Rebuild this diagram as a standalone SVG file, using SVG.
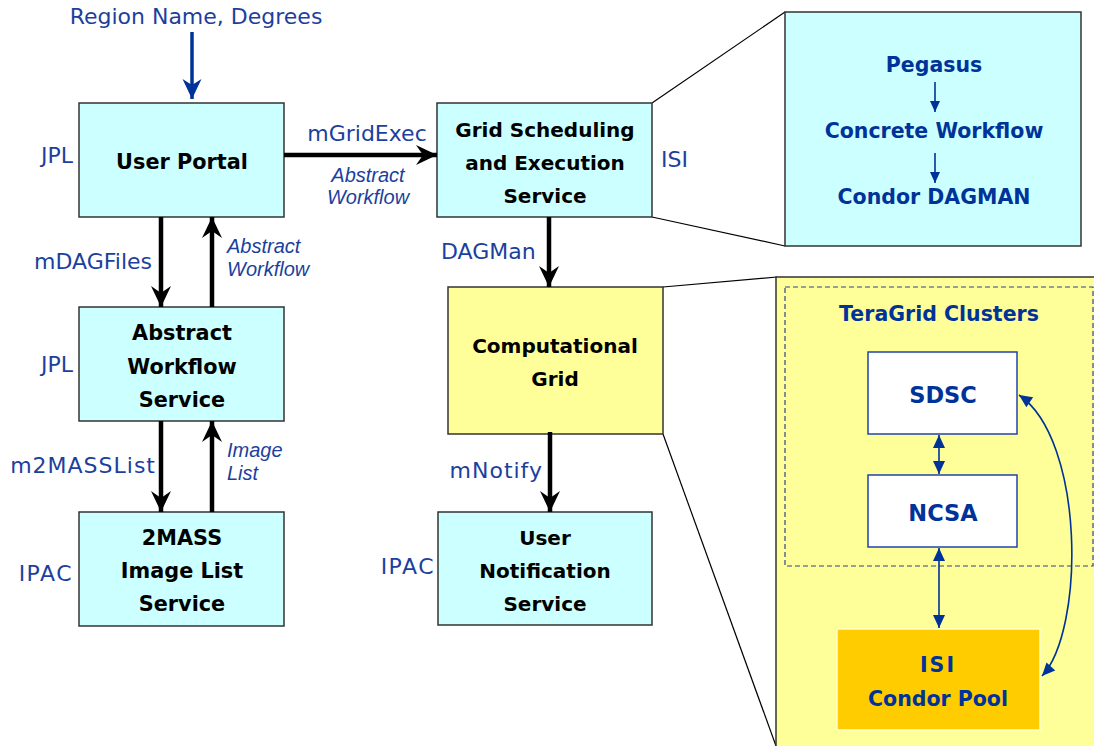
<svg xmlns="http://www.w3.org/2000/svg" width="1094" height="746" viewBox="0 0 1094 746">
<style>
.box{fill:#ccffff;stroke:#333;stroke-width:1.5}
.yel{fill:#ffff99;stroke:#333;stroke-width:1.5}
.bt{font-family:"DejaVu Sans",Verdana,sans-serif;font-weight:bold;font-size:20px;fill:#000;text-anchor:middle}
.lbl{font-family:"DejaVu Sans",Verdana,sans-serif;font-size:22px;fill:#1c3f9e}
.it{font-family:"Liberation Sans",Arial,sans-serif;font-style:italic;font-size:20px;fill:#1c3f9e}
.bb{font-family:"DejaVu Sans",Verdana,sans-serif;font-weight:bold;font-size:20.5px;fill:#003399;text-anchor:middle}
.big{font-size:22.5px}
.mid{font-size:20.8px}
.ka{stroke:#000;stroke-width:4.5;fill:none}
.ba{stroke:#003399;stroke-width:1.6;fill:none}
.thin{stroke:#000;stroke-width:1.2;fill:none}
</style>
<defs>
<marker id="ah" markerUnits="userSpaceOnUse" markerWidth="24" markerHeight="24" viewBox="-22 -12 24 24" refX="0" refY="0" orient="auto">
<path d="M0,0 L-21,-10 L-14,0 L-21,10 Z" fill="#000"/>
</marker>
<marker id="ahb" markerUnits="userSpaceOnUse" markerWidth="24" markerHeight="24" viewBox="-22 -12 24 24" refX="0" refY="0" orient="auto">
<path d="M0,0 L-20,-9.5 L-14,0 L-20,9.5 Z" fill="#003399"/>
</marker>
<marker id="tb" markerUnits="userSpaceOnUse" markerWidth="16" markerHeight="16" viewBox="-14 -8 16 16" refX="0" refY="0" orient="auto-start-reverse">
<path d="M0,0 L-13,-6 L-13,6 Z" fill="#003399"/>
</marker>
<marker id="ts" markerUnits="userSpaceOnUse" markerWidth="14" markerHeight="14" viewBox="-12 -7 14 14" refX="0" refY="0" orient="auto">
<path d="M0,0 L-11,-5 L-11,5 Z" fill="#003399"/>
</marker>
</defs>

<g id="zoom-lines">
<line class="thin" x1="652" y1="103" x2="785" y2="12"/>
<line class="thin" x1="652" y1="217" x2="785" y2="246"/>
<line class="thin" x1="663" y1="287" x2="777" y2="277"/>
<line class="thin" x1="663" y1="434" x2="776" y2="746"/>
</g>

<g id="input-label">
<text class="lbl" x="196" y="24" text-anchor="middle">Region Name, Degrees</text>
</g>

<g id="user-portal">
<rect class="box" x="79" y="103" width="205" height="114"/>
<text class="bt mid" x="182" y="169">User Portal</text>
<text class="lbl" x="73" y="163" text-anchor="end">JPL</text>
</g>

<g id="grid-scheduling">
<rect class="box" x="437" y="103" width="215" height="114"/>
<text class="bt" x="545" y="137">Grid Scheduling</text>
<text class="bt" x="545" y="170">and Execution</text>
<text class="bt" x="545" y="203">Service</text>
<text class="lbl" x="661" y="167">ISI</text>
</g>

<g id="pegasus-detail">
<rect class="box" x="785" y="12" width="296" height="234"/>
<text class="bb" x="934" y="72">Pegasus</text>
<text class="bb" x="934" y="138">Concrete Workflow</text>
<text class="bb" x="934" y="204">Condor DAGMAN</text>
</g>

<g id="abstract-workflow">
<rect class="box" x="79" y="307" width="205" height="114"/>
<text class="bt mid" x="182" y="340">Abstract</text>
<text class="bt mid" x="182" y="374">Workflow</text>
<text class="bt mid" x="182" y="407">Service</text>
<text class="lbl" x="73" y="372" text-anchor="end">JPL</text>
</g>

<g id="image-list">
<rect class="box" x="79" y="512" width="205" height="114"/>
<text class="bt mid" x="182" y="545">2MASS</text>
<text class="bt mid" x="182" y="578">Image List</text>
<text class="bt mid" x="182" y="611">Service</text>
<text class="lbl" x="73" y="581" text-anchor="end" letter-spacing="1.5">IPAC</text>
</g>

<g id="computational-grid">
<rect class="yel" x="448" y="287" width="215" height="147"/>
<text class="bt" x="555" y="353">Computational</text>
<text class="bt" x="555" y="386">Grid</text>
</g>

<g id="user-notification">
<rect class="box" x="438" y="512" width="214" height="113"/>
<text class="bt" x="545" y="545">User</text>
<text class="bt" x="545" y="578">Notification</text>
<text class="bt" x="545" y="611">Service</text>
<text class="lbl" x="435" y="574" text-anchor="end" letter-spacing="1.5">IPAC</text>
</g>

<g id="grid-detail">
<rect class="yel" x="776" y="277" width="330" height="480"/>
<rect x="785" y="287" width="308" height="279" fill="none" stroke="#334488" stroke-width="1.2" stroke-dasharray="5,3"/>
<text class="bb" x="939" y="321">TeraGrid Clusters</text>
</g>

<g id="sdsc">
<rect x="868" y="352" width="149" height="82" fill="#fff" stroke="#2244aa" stroke-width="1.5"/>
<text class="bb big" x="943" y="403">SDSC</text>
</g>

<g id="ncsa">
<rect x="868" y="475" width="149" height="72" fill="#fff" stroke="#2244aa" stroke-width="1.5"/>
<text class="bb big" x="943" y="521">NCSA</text>
</g>

<g id="isi-pool">
<rect x="837" y="629" width="203" height="101" fill="#ffcc00" stroke="#ffffcc" stroke-width="1.5"/>
<text class="bb" x="938" y="672" letter-spacing="2">ISI</text>
<text class="bb" x="938" y="706">Condor Pool</text>
</g>

<g id="connectors">
<line x1="192" y1="32" x2="192" y2="99" stroke="#003399" stroke-width="3.5" marker-end="url(#ahb)"/>
<line class="ka" x1="284" y1="155" x2="437" y2="155" marker-end="url(#ah)"/>
<line class="ka" x1="161" y1="217" x2="161" y2="307" marker-end="url(#ah)"/>
<line class="ka" x1="212" y1="307" x2="212" y2="217" marker-end="url(#ah)"/>
<line class="ka" x1="161" y1="421" x2="161" y2="512" marker-end="url(#ah)"/>
<line class="ka" x1="212" y1="512" x2="212" y2="421" marker-end="url(#ah)"/>
<line class="ka" x1="549" y1="217" x2="549" y2="287" marker-end="url(#ah)"/>
<line class="ka" x1="550" y1="432" x2="550" y2="512" marker-end="url(#ah)"/>
<line class="ba" x1="935" y1="82" x2="935" y2="112" marker-end="url(#ts)"/>
<line class="ba" x1="935" y1="153" x2="935" y2="183" marker-end="url(#ts)"/>
<line class="ba" x1="939" y1="435" x2="939" y2="474" marker-start="url(#tb)" marker-end="url(#tb)"/>
<line class="ba" x1="939" y1="548" x2="939" y2="628" marker-start="url(#tb)" marker-end="url(#tb)"/>
<path class="ba" d="M1019,395 C1085,440 1085,630 1042,676" marker-start="url(#tb)" marker-end="url(#tb)"/>
<text class="lbl" x="367" y="141" text-anchor="middle">mGridExec</text>
<text class="it" x="368" y="182" text-anchor="middle">Abstract</text>
<text class="it" x="368" y="204" text-anchor="middle">Workflow</text>
<text class="lbl" x="152" y="269" text-anchor="end">mDAGFiles</text>
<text class="it" x="227" y="253">Abstract</text>
<text class="it" x="227" y="276">Workflow</text>
<text class="lbl" x="156" y="473" text-anchor="end" letter-spacing="1">m2MASSList</text>
<text class="it" x="227" y="457">Image</text>
<text class="it" x="227" y="480">List</text>
<text class="lbl" x="441" y="259">DAGMan</text>
<text class="lbl" x="543" y="478" text-anchor="end" letter-spacing="1">mNotify</text>
</g>
</svg>
